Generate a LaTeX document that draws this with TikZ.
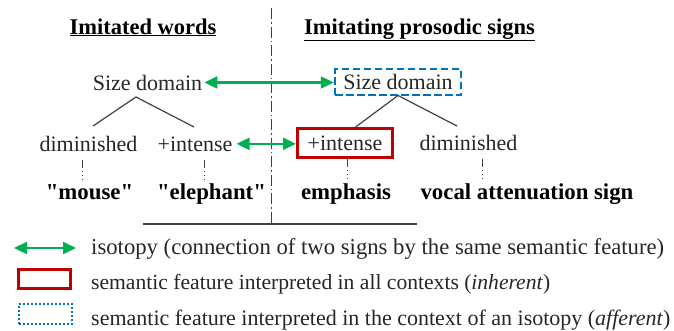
\documentclass[tikz,border=0pt]{standalone}
\usepackage{fontspec}
\setmainfont{Liberation Serif}[Ligatures=TeXOff]
\usetikzlibrary{arrows.meta}
\definecolor{isogreen}{HTML}{00B050}
\definecolor{inhred}{HTML}{C00000}
\definecolor{affblue}{HTML}{0070C0}
\definecolor{txtc}{HTML}{262626}
\definecolor{linec}{HTML}{404040}
\begin{document}
\begin{tikzpicture}[x=1pt,y=-1pt,
  plain/.style={inner sep=0pt, anchor=base, text=txtc, font=\fontsize{22}{26}\selectfont},
  boldtxt/.style={inner sep=0pt, anchor=base, text=black, font=\fontsize{22.8}{26}\selectfont\bfseries},
  titletxt/.style={inner sep=0pt, anchor=base, text=black, font=\fontsize{22.5}{26}\selectfont\bfseries},
  legtxt/.style={inner sep=0pt, anchor=base west, text=txtc},
  iso/.style={draw=isogreen, line width=2.2pt, {Triangle[length=13pt,width=12pt,fill=isogreen]}-{Triangle[length=13pt,width=12pt,fill=isogreen]}},
  inhbox/.style={draw=inhred, line width=3pt, inner sep=0pt},
  affbox/.style={draw=affblue, line width=2.5pt, dash pattern=on 7.5pt off 3.5pt, inner sep=0pt},
  affdots/.style={draw=affblue, line width=2.5pt, dash pattern=on 2pt off 2pt, inner sep=0pt},
  tree/.style={draw=linec, line width=1.2pt},
  dotline/.style={draw=linec, line width=1pt, dash pattern=on 8pt off 3pt on 1pt off 3pt on 1pt off 3pt on 1pt off 3pt},
  divider/.style={draw=black!75, line width=1.6pt, dash pattern=on 11pt off 3pt on 1.5pt off 3pt},
  rule/.style={draw=linec, line width=1.3pt}
]
\useasboundingbox (0,0) rectangle (674,330);

% divider and rule
\coordinate (dtop) at (271.5,8);
\coordinate (dbot) at (271.5,224);
\coordinate (rl) at (143,224);
\coordinate (rr) at (417,224);
\draw[divider] (dtop) -- (dbot);
\draw[rule] (rl) -- (rr);

% titles
\node[titletxt] (t1) at (143,34) {\underline{Imitated words}};
\node[titletxt] (t2) at (419.5,34) {\underline{Imitating prosodic signs}};

% row 1
\node[plain] (sdL) at (147.5,90) {Size domain};
\node[affbox, minimum width=126pt, minimum height=26pt, text=txtc, font=\fontsize{22}{26}\selectfont] (sdR) at (398,82) {Size domain};
\draw[iso, shorten <=2pt] (sdL.east) -- (sdL.east -| sdR.west);

% row 2
\node[plain] (dimL) at (88.5,151) {diminished};
\node[plain] (intL) at (195,151) {+intense};
\node[inhbox, minimum width=95pt, minimum height=29pt, text=txtc, font=\fontsize{22}{26}\selectfont] (intR) at (345,143) {+intense};
\node[plain] (dimR) at (468.5,150.5) {diminished};
\draw[iso, shorten <=4pt] (intL.east) -- (intL.east -| intR.west);

% trees
\coordinate (apL) at (136,97);
\coordinate (lfL1) at (93,126);
\coordinate (lfL2) at (194,127);
\coordinate (apR) at (398,95.5);
\coordinate (lfR1) at (355,127.5);
\coordinate (lfR2) at (457,126);
\draw[tree] (lfL1) -- (apL) -- (lfL2);
\draw[tree] (lfR1) -- (apR) -- (lfR2);

% row 3
\node[boldtxt] (mouse) at (89.5,199) {"mouse"};
\node[boldtxt] (eleph) at (211.5,199) {"elephant"};
\node[boldtxt] (emph) at (346,199) {emphasis};
\node[boldtxt] (vocal) at (527,199) {vocal attenuation sign};

% dotted links
\draw[dotline] ([yshift=-9pt]dimL.south -| 82,0) -- ([yshift=3pt]mouse.north -| 82,0);
\draw[dotline] ([yshift=-9pt]intL.south -| 204,0) -- ([yshift=3pt]eleph.north -| 204,0);
\draw[dotline] (intR.south -| 347,0) -- ([yshift=3pt]emph.north -| 347,0);
\draw[dotline] ([yshift=-8pt]dimR.south -| 482,0) -- ([yshift=3pt]vocal.north -| 482,0);

% legend
\coordinate (la1) at (14,248);
\coordinate (la2) at (76,248);
\draw[iso] (la1) -- (la2);
\node[inhbox, minimum width=52pt, minimum height=19pt] (lred) at (44.5,279) {};
\node[affdots, minimum width=53pt, minimum height=20pt] (lblue) at (45.5,314) {};
\node[legtxt, font=\fontsize{22.7}{26}\selectfont] (l1) at (91,254) {isotopy (connection of two signs by the same semantic feature)};
\node[legtxt, font=\fontsize{21.6}{26}\selectfont] (l2) at (91,289) {semantic feature interpreted in all contexts (\textit{inherent})};
\node[legtxt, font=\fontsize{22}{26}\selectfont] (l3) at (91,325) {semantic feature interpreted in the context of an isotopy (\textit{afferent})};
\end{tikzpicture}
\end{document}
